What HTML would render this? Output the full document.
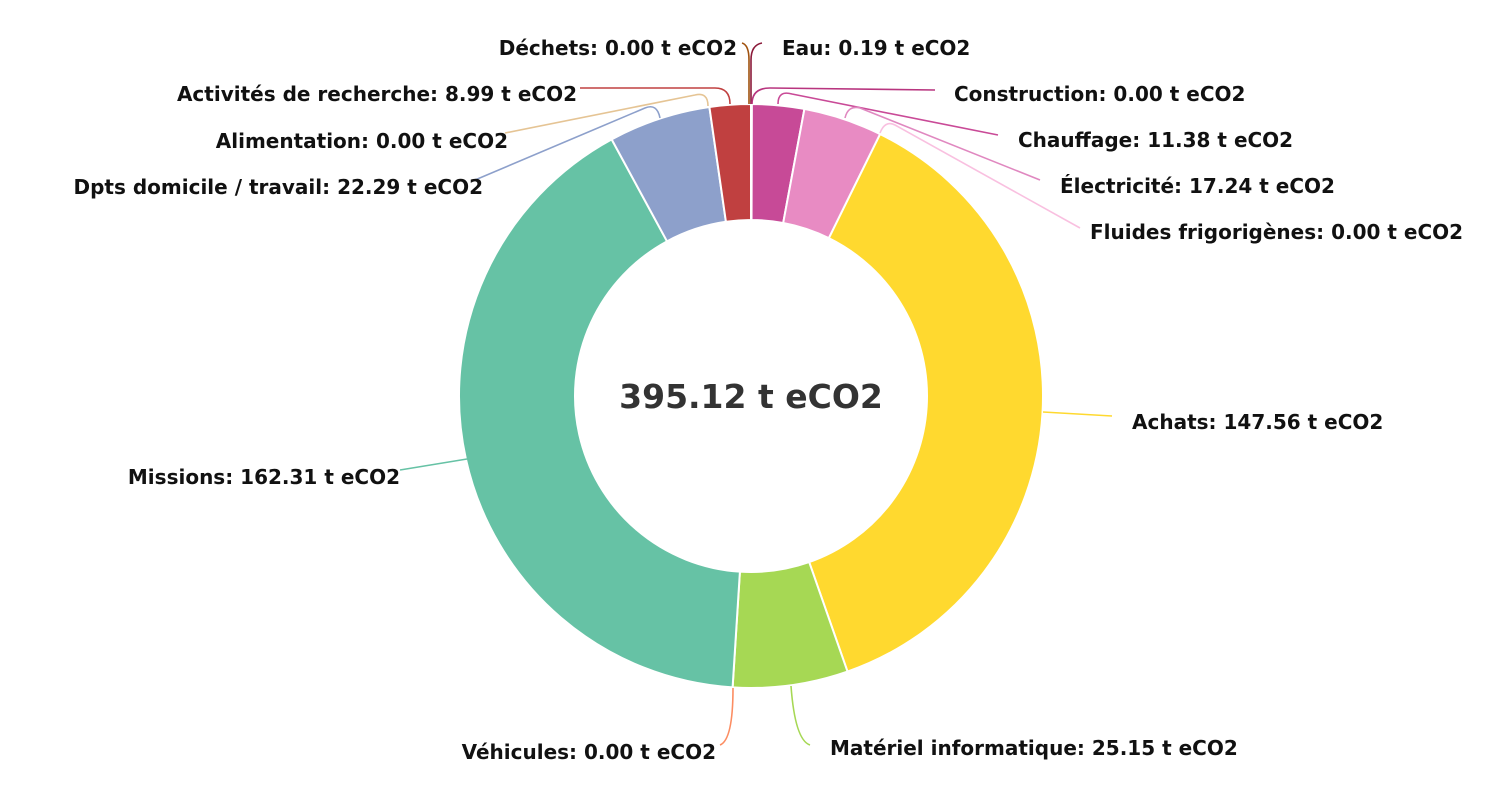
<!DOCTYPE html>
<html><head><meta charset="utf-8"><style>
html,body{margin:0;padding:0;background:#fff;width:1500px;height:800px;overflow:hidden}
svg text{font-family:"DejaVu Sans","Liberation Sans",sans-serif;font-weight:bold;fill:#111;font-size:20px}
</style></head><body>
<svg width="1500" height="800" viewBox="0 0 1500 800" xmlns="http://www.w3.org/2000/svg">
<g id="slices"></g>
<g fill="none" stroke-width="1.6">
<path d="M751 104 V60 Q751 45 762 43" stroke="#8b1a3a"/>
<path d="M749 104 V60 Q749 45 742 43" stroke="#a0520f"/>
<path d="M752 104 Q752 88 770 88 L935 90" stroke="#b8357f"/>
<path d="M778 104 Q778 90 792 94 L998 135" stroke="#c94a97"/>
<path d="M845 118 Q848 105 860 108 L1040 180" stroke="#e088c0"/>
<path d="M880 133 Q885 120 895 125 L1080 228" stroke="#f9c0e0"/>
<path d="M1043 412 L1112 416" stroke="#ffd92f"/>
<path d="M791 686 Q795 740 810 745" stroke="#a6d854"/>
<path d="M733 688 Q733 740 720 745" stroke="#fc8d62"/>
<path d="M467 459 L400 470" stroke="#66c2a5"/>
<path d="M660 118 Q657 103 645 108 L475 180" stroke="#8da0cb"/>
<path d="M708 106 Q708 92 695 95 L505 133" stroke="#e5c494"/>
<path d="M730 104 Q730 88 715 88 L580 88" stroke="#c04040"/>
</g>
<text x="751" y="408" text-anchor="middle" style="font-size:33px;fill:#333">395.12 t eCO2</text>
<text x="737" y="55" text-anchor="end">Déchets: 0.00 t eCO2</text>
<text x="782" y="55">Eau: 0.19 t eCO2</text>
<text x="954" y="101">Construction: 0.00 t eCO2</text>
<text x="1018" y="147">Chauffage: 11.38 t eCO2</text>
<text x="1060" y="193">Électricité: 17.24 t eCO2</text>
<text x="1090" y="239">Fluides frigorigènes: 0.00 t eCO2</text>
<text x="1132" y="429">Achats: 147.56 t eCO2</text>
<text x="830" y="755">Matériel informatique: 25.15 t eCO2</text>
<text x="716" y="759" text-anchor="end">Véhicules: 0.00 t eCO2</text>
<text x="400" y="484" text-anchor="end">Missions: 162.31 t eCO2</text>
<text x="483" y="194" text-anchor="end">Dpts domicile / travail: 22.29 t eCO2</text>
<text x="508" y="148" text-anchor="end">Alimentation: 0.00 t eCO2</text>
<text x="577" y="101" text-anchor="end">Activités de recherche: 8.99 t eCO2</text>
</svg>
<script>
var data=[[0.19,"#8b1a3a"],[11.38,"#c74a97"],[17.24,"#e88bc3"],[147.56,"#ffd92f"],[25.15,"#a6d854"],[162.31,"#66c2a5"],[22.29,"#8da0cb"],[8.99,"#c04040"]];
var tot=395.11,cx=751,cy=396,R=292,r=176,a=0,g=document.getElementById("slices"),s="";
function pt(rad,ang){return [cx+rad*Math.sin(ang),cy-rad*Math.cos(ang)];}
data.forEach(function(d){var b=a+d[0]/tot*2*Math.PI,l=(b-a)>Math.PI?1:0;
var p1=pt(R,a),p2=pt(R,b),p3=pt(r,b),p4=pt(r,a);
s+='<path d="M'+p1+' A'+R+' '+R+' 0 '+l+' 1 '+p2+' L'+p3+' A'+r+' '+r+' 0 '+l+' 0 '+p4+' Z" fill="'+d[1]+'" stroke="#fff" stroke-width="2"/>';a=b;});
g.innerHTML=s;
</script>
</body></html>
